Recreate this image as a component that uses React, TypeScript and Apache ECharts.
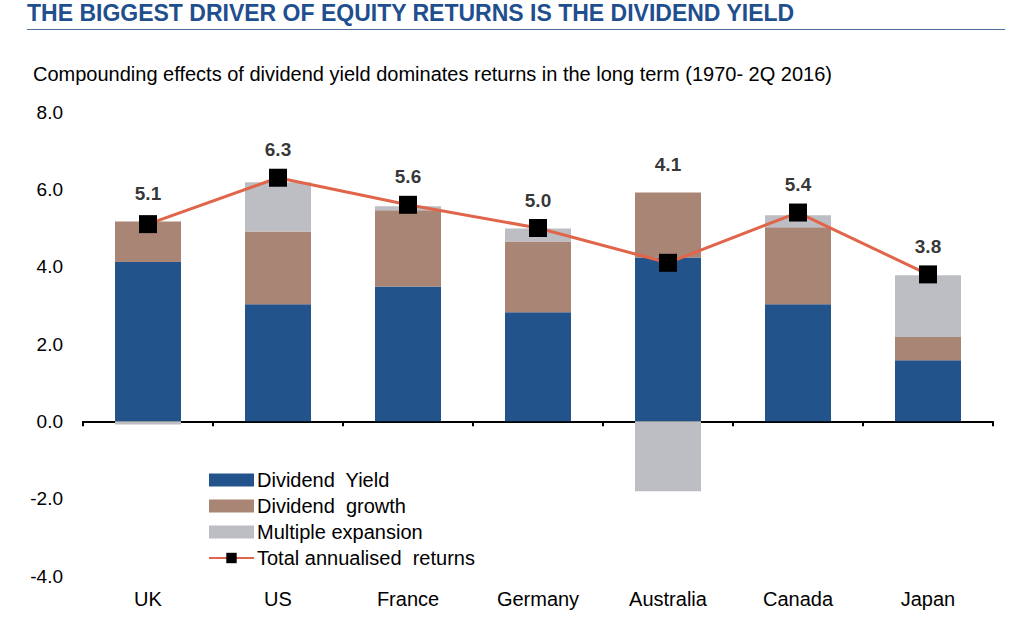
import React, { useEffect, useRef } from "react";
import * as echarts from "echarts";

const categories = ["UK", "US", "France", "Germany", "Australia", "Canada", "Japan"];
const dividendYield = [4.12, 3.03, 3.49, 2.82, 4.24, 3.03, 1.58];
const dividendGrowth = [1.05, 1.88, 1.97, 1.83, 1.68, 1.99, 0.6];
const multipleExpansion = [-0.08, 1.27, 0.1, 0.34, -1.81, 0.31, 1.6];
const totalReturns = [5.1, 6.3, 5.6, 5.0, 4.1, 5.4, 3.8];
const yTicks = [-4, -2, 0, 2, 4, 6, 8];

const FONT = "Liberation Sans, Arial, sans-serif";

export default function App() {
  const ref = useRef<HTMLDivElement>(null);
  useEffect(() => {
    if (!ref.current) return;
    const chart = echarts.init(ref.current, null, { renderer: "svg" });
    const labelAnchor = categories.map((_, i) => {
      const top =
        dividendYield[i] + dividendGrowth[i] + Math.max(multipleExpansion[i], 0);
      return Math.max(top, totalReturns[i]);
    });
    chart.setOption({
      animation: false,
      textStyle: { fontFamily: FONT },
      title: [
        {
          text: "THE BIGGEST DRIVER OF EQUITY RETURNS IS THE DIVIDEND YIELD",
          left: 27,
          top: 1,
          padding: 0,
          textStyle: { fontFamily: FONT, fontSize: 23, fontWeight: "bold", color: "#1F4F8F" },
        },
        {
          text: "Compounding effects of dividend yield dominates returns in the long term (1970- 2Q 2016)",
          left: 33,
          top: 64,
          padding: 0,
          textStyle: { fontFamily: FONT, fontSize: 20, fontWeight: "normal", color: "#000" },
        },
      ],
      graphic: [
        {
          type: "line",
          shape: { x1: 27, y1: 29.5, x2: 1005, y2: 29.5 },
          style: { stroke: "#4E6E9E", lineWidth: 1 },
        },
      ],
      legend: {
        orient: "vertical",
        left: 208,
        top: 470,
        padding: 0,
        itemWidth: 45,
        itemHeight: 13,
        itemGap: 6,
        textStyle: {
          fontFamily: FONT,
          fontSize: 20,
          lineHeight: 20,
          color: "#000",
          padding: [0, 0, 0, -2],
        },
        data: [
          { name: "Dividend  Yield", icon: "rect" },
          { name: "Dividend  growth", icon: "rect" },
          { name: "Multiple expansion", icon: "rect" },
          { name: "Total annualised  returns" },
        ],
      },
      grid: { left: 83, right: 31, top: 112, bottom: 58, containLabel: false },
      xAxis: [
        {
          type: "category",
          data: categories,
          position: "top",
          axisLine: { onZero: true, lineStyle: { color: "#000", width: 2 } },
          axisTick: { show: true, inside: true, length: 5, lineStyle: { color: "#000", width: 2 } },
          axisLabel: { show: false },
          splitLine: { show: false },
        },
        {
          type: "category",
          data: categories,
          position: "bottom",
          axisLine: { show: false, onZero: false },
          axisTick: { show: false },
          axisLabel: { fontFamily: FONT, fontSize: 20, color: "#000", margin: 13 },
          splitLine: { show: false },
        },
      ],
      yAxis: {
        type: "value",
        min: yTicks[0],
        max: yTicks[yTicks.length - 1],
        interval: 2,
        axisLine: { show: false },
        axisTick: { show: false },
        splitLine: { show: false },
        axisLabel: {
          fontFamily: FONT,
          fontSize: 19,
          color: "#000",
          margin: 20,
          formatter: (v: number) => v.toFixed(1),
        },
      },
      series: [
        {
          name: "Dividend  Yield",
          type: "bar",
          stack: "total",
          barWidth: 66,
          data: dividendYield,
          itemStyle: { color: "#23538B" },
        },
        {
          name: "Dividend  growth",
          type: "bar",
          stack: "total",
          barWidth: 66,
          data: dividendGrowth,
          itemStyle: { color: "#A98575" },
        },
        {
          name: "Multiple expansion",
          type: "bar",
          stack: "total",
          barWidth: 66,
          data: multipleExpansion,
          itemStyle: { color: "#BDBEC3" },
        },
        {
          name: "Total annualised  returns",
          type: "line",
          data: totalReturns,
          symbol: "rect",
          symbolSize: 18,
          z: 5,
          lineStyle: { color: "#E0654A", width: 3 },
          itemStyle: { color: "#000" },
        },
        {
          name: "labels",
          type: "scatter",
          data: labelAnchor,
          symbolSize: 1,
          itemStyle: { color: "rgba(0,0,0,0)" },
          silent: true,
          z: 6,
          label: {
            show: true,
            position: "top",
            distance: 18,
            fontFamily: FONT,
            fontSize: 19,
            fontWeight: "bold",
            color: "#000",
            formatter: (p: any) => totalReturns[p.dataIndex].toFixed(1),
          },
        },
      ],
    });
    return () => chart.dispose();
  }, []);
  return (
    <div
      ref={ref}
      style={{ position: "fixed", left: 0, top: 0, width: 1024, height: 634, background: "#fff" }}
    />
  );
}
